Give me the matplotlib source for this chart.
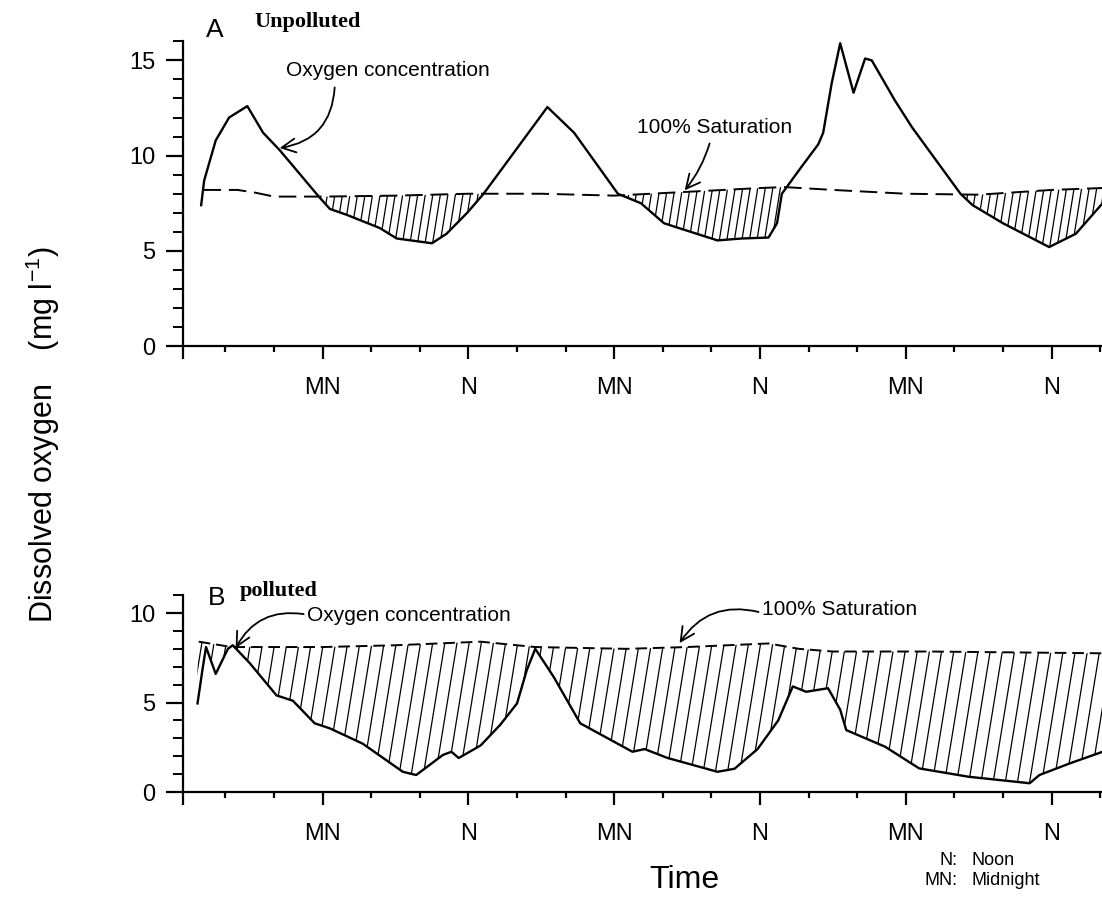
import numpy as np
import matplotlib

matplotlib.use("Agg")
import matplotlib.pyplot as plt
from matplotlib.collections import LineCollection
from matplotlib.path import Path

plt.rcParams["font.family"] = ["Liberation Sans", "DejaVu Sans"]
plt.rcParams["mathtext.fontset"] = "custom"
plt.rcParams["mathtext.rm"] = "Liberation Sans"

# time in hours, 0 = first midnight
TICK_POS = [0, 12, 24, 36, 48, 60]
TICK_LABELS = ["MN", "N", "MN", "N", "MN", "N"]
X_START, X_END = -11.5, 64.15

# A: unpolluted
conc_a_t = [-10.0, -9.75, -8.8, -7.7, -6.2, -4.9, -3.55, -0.25, 0.6, 1.95, 4.7, 6.1, 9.0,
            10.2, 11.9, 13.25, 18.5, 20.7, 24.3, 26.2, 28.1, 29.8, 32.5, 34.5, 36.7, 37.4,
            37.8, 39.4, 40.8, 41.2, 41.9, 42.6, 43.7, 44.65, 45.2, 47.1, 48.5, 52.5, 53.5,
            56.0, 59.8, 62.0, 64.2]
conc_a = [7.4, 8.7, 10.8, 12.0, 12.6, 11.2, 10.3, 7.8, 7.2, 6.9, 6.2, 5.65, 5.4,
          5.9, 7.0, 8.0, 12.55, 11.2, 8.0, 7.5, 6.45, 6.1, 5.55, 5.65, 5.7, 6.45,
          8.0, 9.4, 10.6, 11.2, 13.8, 15.9, 13.3, 15.1, 15.0, 12.9, 11.5, 8.0, 7.4,
          6.45, 5.2, 5.9, 7.5]
sat_a_t = [-9.8, -7.0, -5.5, -4.0, 0.0, 6.0, 12.0, 18.0, 24.0, 30.0, 36.0, 38.0, 42.0,
           48.0, 54.0, 60.0, 64.2]
sat_a = [8.2, 8.2, 8.05, 7.85, 7.85, 7.9, 8.0, 8.0, 7.9, 8.1, 8.3, 8.35, 8.2,
         8.0, 7.95, 8.2, 8.3]

# B: polluted
conc_b_t = [-10.3, -9.9, -9.6, -8.8, -7.8, -7.4, -6.0, -3.8, -2.45, -0.66, 0.58, 3.3, 6.6,
            7.7, 9.9, 10.6, 11.2, 13.0, 14.6, 16.0, 16.8, 17.5, 19.0, 21.2, 25.5, 26.5,
            28.4, 32.5, 33.9, 35.8, 37.5, 38.7, 39.8, 41.6, 42.6, 43.1, 46.3, 49.1, 53.2,
            58.2, 59.0, 61.5, 64.2]
conc_b = [4.95, 6.8, 8.1, 6.6, 8.0, 8.2, 7.2, 5.4, 5.1, 3.84, 3.56, 2.7, 1.13,
          0.95, 2.07, 2.25, 1.9, 2.6, 3.74, 4.95, 6.8, 8.0, 6.45, 3.84, 2.25, 2.4,
          1.9, 1.13, 1.3, 2.4, 4.0, 5.9, 5.6, 5.8, 4.6, 3.46, 2.53, 1.32, 0.85,
          0.49, 0.95, 1.6, 2.25]
sat_b_t = [-10.2, -7.5, 0.0, 6.0, 13.0, 17.5, 25.0, 30.0, 36.7, 39.2, 42.0, 50.0, 64.2]
sat_b = [8.4, 8.1, 8.1, 8.2, 8.4, 8.1, 8.0, 8.1, 8.3, 8.0, 7.85, 7.85, 7.75]

ARROW = dict(arrowstyle="->,head_length=0.5,head_width=0.25", color="black",
             lw=1.3, shrinkA=0, shrinkB=0, mutation_scale=20)


def hatch_deficit(ax, t_c, conc, t_s, sat, spacing, slant, ymax):
    # hatch the area where oxygen is below saturation
    t_all = np.union1d(t_c, t_s)
    c = np.interp(t_all, t_c, conc)
    s = np.interp(t_all, t_s, sat)
    region = ax.fill_between(t_all, c, s, where=c < s, interpolate=True,
                             facecolor="none", edgecolor="none")
    clip = Path.make_compound_path(*region.get_paths())
    starts = np.arange(t_all[0] - slant * ymax, t_all[-1] + spacing, spacing)
    segs = [[(x, 0), (x + slant * ymax, ymax)] for x in starts]
    lines = LineCollection(segs, colors="black", linewidths=0.9)
    ax.add_collection(lines, autolim=False)
    lines.set_clip_path(clip, ax.transData)


def style_axis(ax, ymax, ymajor):
    for side in ("top", "right"):
        ax.spines[side].set_visible(False)
    for side in ("left", "bottom"):
        ax.spines[side].set_linewidth(1.6)
    ax.set_xlim(X_START, X_END)
    ax.set_ylim(0, ymax)
    ax.set_xticks([X_START] + TICK_POS, labels=[""] + TICK_LABELS)
    ax.set_xticks(np.arange(-8, 65, 4), minor=True)
    ax.set_yticks(ymajor)
    ax.set_yticks(np.arange(0, ymax + 0.5, 1), minor=True)
    ax.tick_params(axis="x", which="major", length=9, width=1.6, pad=13, labelsize=17)
    ax.tick_params(axis="x", which="minor", length=4.5, width=1.6)
    ax.tick_params(axis="y", which="major", length=12, width=1.6, pad=8, labelsize=17)
    ax.tick_params(axis="y", which="minor", length=7, width=1.4)


def main() -> None:
    fig = plt.figure(figsize=(11.02, 8.99), dpi=100)
    ax_a = fig.add_axes([0.166, 0.615, 0.834, 0.339])
    ax_b = fig.add_axes([0.166, 0.119, 0.834, 0.219])
    for ax in (ax_a, ax_b):
        ax.patch.set_alpha(0)

    # panel A
    hatch_deficit(ax_a, conc_a_t, conc_a, sat_a_t, sat_a, 0.62, 0.25, 16)
    ax_a.plot(sat_a_t, sat_a, color="black", lw=1.4, dashes=(9, 4))
    ax_a.plot(conc_a_t, conc_a, color="black", lw=1.7)
    style_axis(ax_a, 16, [0, 5, 10, 15])
    ax_a.text(-8.9, 16.57, "A", fontsize=19, ha="center", va="center")
    ax_a.text(-5.6, 17.0, "Unpolluted", fontsize=16, fontweight="bold",
              family="Liberation Serif", ha="left", va="center")
    ax_a.text(5.35, 14.47, "Oxygen concentration", fontsize=15, ha="center", va="center")
    ax_a.annotate("", xy=(-3.54, 10.4), xytext=(0.99, 13.58),
                  arrowprops=dict(ARROW, connectionstyle="arc3,rad=-0.4"))
    ax_a.text(32.26, 11.48, "100% Saturation", fontsize=15, ha="center", va="center")
    ax_a.annotate("", xy=(29.8, 8.18), xytext=(31.85, 10.64),
                  arrowprops=dict(ARROW, connectionstyle="arc3,rad=-0.1"))

    # panel B
    hatch_deficit(ax_b, conc_b_t, conc_b, sat_b_t, sat_b, 1.0, 0.24, 11)
    ax_b.plot(sat_b_t, sat_b, color="black", lw=1.4, dashes=(6, 3))
    ax_b.plot(conc_b_t, conc_b, color="black", lw=1.7)
    style_axis(ax_b, 11, [0, 5, 10])
    ax_b.text(-8.72, 10.84, "B", fontsize=19, ha="center", va="center")
    ax_b.text(-6.83, 11.23, "polluted", fontsize=16, fontweight="bold",
              family="Liberation Serif", ha="left", va="center")
    ax_b.text(-1.32, 9.89, "Oxygen concentration", fontsize=15, ha="left", va="center")
    ax_b.annotate("", xy=(-7.16, 8.04), xytext=(-1.56, 9.94),
                  arrowprops=dict(ARROW, connectionstyle="arc3,rad=0.35"))
    ax_b.text(36.13, 10.17, "100% Saturation", fontsize=15, ha="left", va="center")
    ax_b.annotate("", xy=(29.38, 8.32), xytext=(35.88, 10.06),
                  arrowprops=dict(ARROW, connectionstyle="arc3,rad=0.35"))

    fig.text(0.039, 0.516, "Dissolved oxygen    (mg l$^{\\mathregular{-1}}$)",
             rotation=90, fontsize=22, ha="center", va="center")
    fig.text(0.621, 0.021, "Time", fontsize=23, ha="center", va="center")
    fig.text(0.869, 0.043, "N:", fontsize=13, ha="right", va="center")
    fig.text(0.882, 0.043, "Noon", fontsize=13, ha="left", va="center")
    fig.text(0.869, 0.021, "MN:", fontsize=13, ha="right", va="center")
    fig.text(0.882, 0.021, "Midnight", fontsize=13, ha="left", va="center")

    fig.savefig("out.png", dpi=100, facecolor="white")
    plt.close(fig)


if __name__ == "__main__":
    main()
